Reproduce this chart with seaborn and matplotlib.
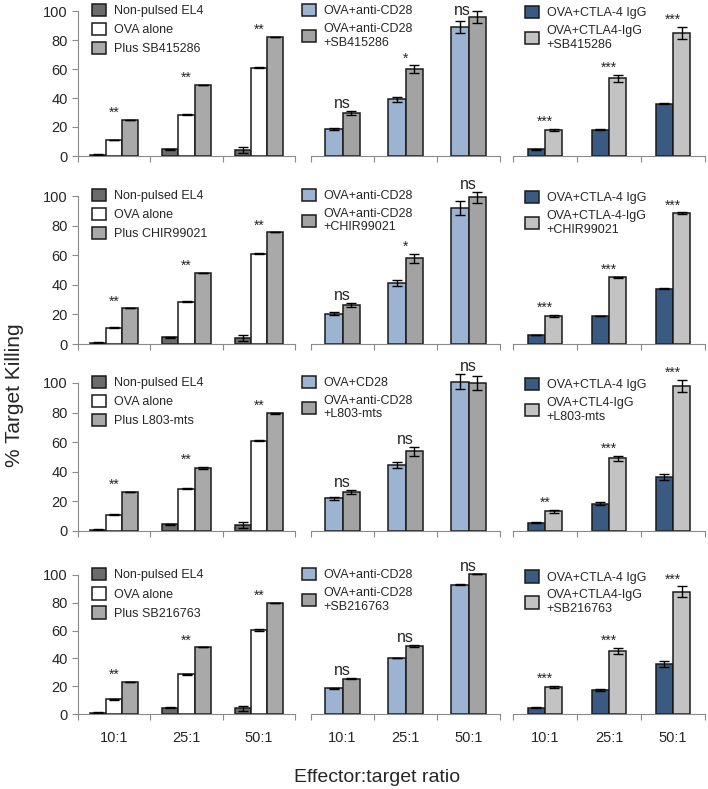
import matplotlib
matplotlib.use("Agg")
import matplotlib.pyplot as plt
import seaborn as sns
import pandas as pd

ratios = ["10:1", "25:1", "50:1"]
inhibitors = ["SB415286", "CHIR99021", "L803-mts", "SB216763"]

# left column: EL4 controls
nonpulsed = [[1, 4.5, 4], [1, 4.5, 4], [1, 4.5, 4], [1, 4.5, 4]]
nonpulsed_err = [[0.5, 0.5, 2], [0.5, 0.5, 2], [0.5, 0.5, 2], [0.5, 0.5, 2]]
ova_alone = [[11, 28.5, 61], [11, 28.5, 61], [11, 28.5, 61], [10.5, 28.5, 60.5]]
ova_alone_err = [[0.3, 0.3, 0.5], [0.3, 0.3, 0.5], [0.3, 0.3, 0.5], [0.3, 0.3, 0.5]]
plus_inhib = [[25, 49, 82], [24, 48, 75.5], [26.5, 42.5, 79.5], [23, 48, 80]]
plus_inhib_err = [[0, 0, 0], [0, 0, 0], [0, 0.8, 0.3], [0, 0, 0]]

# middle column: anti-CD28
cd28 = [[18.5, 39, 89], [20.5, 41, 92], [22, 44.5, 101], [18.5, 40, 93]]
cd28_err = [[0.5, 1.5, 4], [1, 2, 4.5], [1, 2, 5], [0.5, 0, 0.5]]
cd28_inhib = [[29.5, 60, 96], [26.5, 58, 99], [26.5, 54, 100], [25.5, 49, 101]]
cd28_inhib_err = [[1.5, 2.5, 4], [1.5, 3, 4], [1.5, 3, 5], [0.5, 0.5, 0]]

# right column: CTLA-4 IgG
ctla4 = [[4.5, 18, 36], [6, 19, 37.5], [5.5, 18.5, 36.5], [4.5, 17.5, 36]]
ctla4_err = [[0.3, 0.3, 0.3], [0, 0, 0.3], [0.3, 0.8, 2], [0.3, 0.8, 2]]
ctla4_inhib = [[18, 53.5, 85], [19, 45, 88.5], [13.5, 49, 98], [19.5, 45.5, 88]]
ctla4_inhib_err = [[0.8, 2.5, 4], [0.8, 0.3, 0.5], [1, 2, 4], [1, 2, 4]]

sig_left = [["**", "**", "**"], ["**", "**", "**"], ["**", "**", "**"], ["**", "**", "**"]]
sig_mid = [["ns", "*", "ns"], ["ns", "*", "ns"], ["ns", "ns", "ns"], ["ns", "ns", "ns"]]
sig_right = [["***", "***", "***"], ["***", "***", "***"], ["**", "***", "***"], ["***", "***", "***"]]

mid_first_labels = ["OVA+anti-CD28", "OVA+anti-CD28", "OVA+CD28", "OVA+anti-CD28"]
right_second_labels = ["OVA+CTLA4-IgG\n+SB415286", "OVA+CTLA-4-IgG\n+CHIR99021",
                       "OVA+CTL4-IgG\n+L803-mts", "OVA+CTLA4-IgG\n+SB216763"]

sns.set_style("white")
plt.rcParams["font.family"] = ["Liberation Sans", "DejaVu Sans"]

W, H = 708, 789
fig = plt.figure(figsize=(W / 100, H / 100), dpi=100)

cols_px = [(78, 295), (311, 500), (513, 705)]
rows_px = [(11, 156), (196, 344), (383, 531), (575, 714)]
legend_anchor = [(0.065, 1.05), (-0.048, 1.05), (0.062, 1.035)]
widths = [0.67, 0.54, 0.54]
spine_col = "#8a8a8a"


def draw_panel(ax, labels, values, errs, colors, sig, width, col, row, show_x):
    rows = []
    for lab, vals in zip(labels, values):
        for r, v in zip(ratios, vals):
            rows.append({"ratio": r, "group": lab, "value": v})
    df = pd.DataFrame(rows)
    sns.barplot(data=df, x="ratio", y="value", hue="group", hue_order=labels,
                order=ratios, palette=colors, width=width, edgecolor="#1a1a1a",
                linewidth=1.1, errorbar=None, legend=False, ax=ax)
    tops = [0, 0, 0]
    for cont, err in zip(ax.containers, errs):
        xs = [p.get_x() + p.get_width() / 2 for p in cont.patches]
        hs = [p.get_height() for p in cont.patches]
        for p in cont.patches:
            p.set_clip_on(False)
        eb = ax.errorbar(xs, hs, yerr=err, fmt="none", ecolor="black",
                         elinewidth=1.0, capsize=3.5, capthick=1.0)
        for art in eb.lines[1] + eb.lines[2]:
            art.set_clip_on(False)
        for i in range(3):
            tops[i] = max(tops[i], hs[i] + err[i])
    for i, s in enumerate(sig):
        y = tops[i] + 2
        x = i
        if row == 0 and y > 97:
            # keep the top row label inside the figure, nudged left of the cap
            y = 97
            x = i - 0.1
        if s == "ns":
            ax.text(x, y, s, ha="center", va="baseline",
                    fontsize=11.5, clip_on=False)
        else:
            ax.text(x, y, s, ha="center", va="baseline",
                    fontsize=10, clip_on=False)
    ax.legend(ax.containers, labels, loc="upper left",
              bbox_to_anchor=legend_anchor[col], frameon=False, fontsize=9,
              borderpad=0, borderaxespad=0, handlelength=1.15,
              handleheight=1.15, handletextpad=0.6, labelspacing=0.45)
    ax.set_xlim(-0.5, 2.5)
    ax.set_ylim(0, 100)
    ax.set_xlabel("")
    ax.set_ylabel("")
    ax.set_xticks([-0.5, 0.5, 1.5, 2.5])
    ax.set_xticklabels([])
    ax.tick_params(axis="x", which="major", length=4, color=spine_col,
                   direction="out", bottom=True)
    if show_x:
        ax.set_xticks([0, 1, 2], minor=True)
        ax.set_xticklabels(ratios, minor=True, fontsize=10.5)
        ax.tick_params(axis="x", which="minor", length=0, pad=12)
    for s in ["top", "right"]:
        ax.spines[s].set_visible(False)
    ax.spines["bottom"].set_color(spine_col)
    if col == 0:
        ax.spines["left"].set_color(spine_col)
        ax.set_yticks([0, 20, 40, 60, 80, 100])
        ax.tick_params(axis="y", length=4, color=spine_col, direction="out",
                       left=True, labelsize=10.5)
    else:
        ax.spines["left"].set_visible(False)
        ax.set_yticks([])


for r in range(4):
    y100, y0 = rows_px[r]
    panels = [
        (["Non-pulsed EL4", "OVA alone", "Plus " + inhibitors[r]],
         [nonpulsed[r], ova_alone[r], plus_inhib[r]],
         [nonpulsed_err[r], ova_alone_err[r], plus_inhib_err[r]],
         ["#6b6b6b", "#ffffff", "#a9a9a9"], sig_left[r]),
        ([mid_first_labels[r], "OVA+anti-CD28\n+" + inhibitors[r]],
         [cd28[r], cd28_inhib[r]],
         [cd28_err[r], cd28_inhib_err[r]],
         ["#93b3da", "#a3a3a3"], sig_mid[r]),
        (["OVA+CTLA-4 IgG", right_second_labels[r]],
         [ctla4[r], ctla4_inhib[r]],
         [ctla4_err[r], ctla4_inhib_err[r]],
         ["#2d5a8e", "#c3c3c3"], sig_right[r]),
    ]
    for c in range(3):
        x0, x1 = cols_px[c]
        ax = fig.add_axes([x0 / W, 1 - y0 / H, (x1 - x0) / W, (y0 - y100) / H])
        labels, values, errs, colors, sig = panels[c]
        draw_panel(ax, labels, values, errs, colors, sig, widths[c], c, r, r == 3)

fig.text(14 / W, 1 - 395 / H, "% Target Killing", rotation=90,
         ha="center", va="center", fontsize=15)
fig.text(377 / W, 1 - 777 / H, "Effector:target ratio",
         ha="center", va="center", fontsize=14)

fig.savefig("out.png", dpi=100)
